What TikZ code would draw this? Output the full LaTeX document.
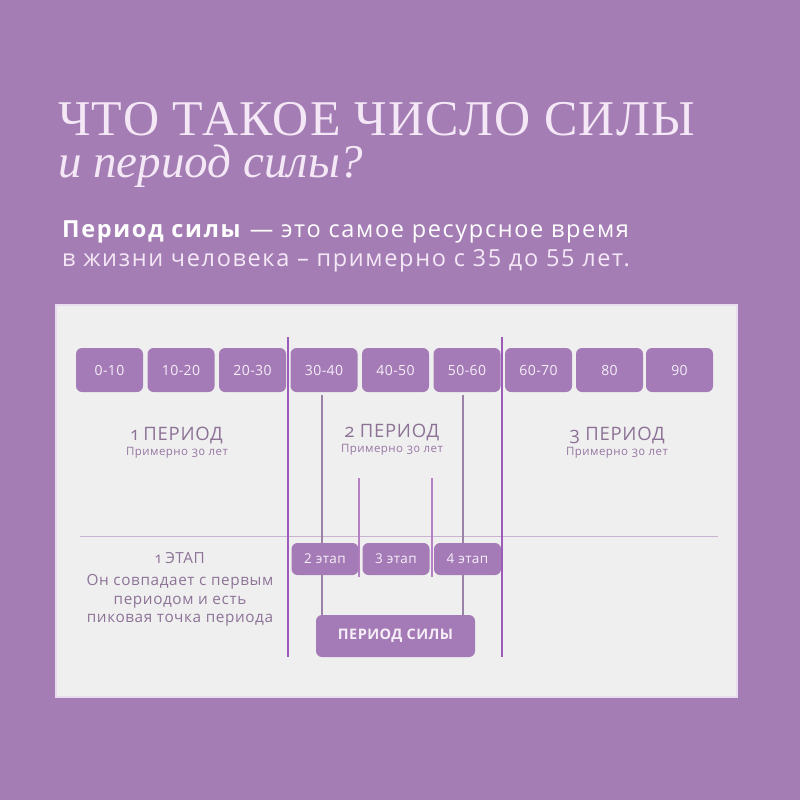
\documentclass[tikz,border=0pt]{standalone}
\usepackage{fontspec}
\setmainfont{Liberation Serif}
\newfontfamily\titlefont[LetterSpace=2.5]{Liberation Serif}
\newfontfamily\labfont{Open Sans}
\newfontfamily\bodyfont[LetterSpace=7]{Open Sans}
\newfontfamily\labfontold[Numbers=OldStyle,LetterSpace=4]{Open Sans}
\newfontfamily\boxfont[LetterSpace=3]{Open Sans}
\definecolor{bgc}{HTML}{A57DB5}
\definecolor{panelc}{HTML}{F0EFF0}
\definecolor{paneledge}{HTML}{EADCF0}
\definecolor{boxc}{HTML}{A47BB6}
\definecolor{boxtext}{HTML}{F6EEF8}
\definecolor{mainline}{HTML}{9C5BB8}
\definecolor{innerline}{HTML}{9A82A6}
\definecolor{shortline}{HTML}{B580C4}
\definecolor{hline}{HTML}{C9B3D3}
\definecolor{labc}{HTML}{8C7396}
\definecolor{subc}{HTML}{9676A2}
\definecolor{titlec}{HTML}{F4E8F6}
\tikzset{
  agebox/.style={rectangle, rounded corners=6pt, fill=boxc, minimum width=67pt, minimum height=44pt, inner sep=0pt, text=boxtext, font=\boxfont\fontsize{14}{14}\selectfont},
  etapbox/.style={agebox, minimum height=32pt, font=\boxfont\fontsize{13.5}{13.5}\selectfont},
  silabox/.style={agebox, minimum width=159pt, minimum height=42pt, font=\boxfont\bfseries\fontsize{14.5}{14.5}\selectfont},
  perlab/.style={anchor=base, inner sep=0pt, text=labc, font=\labfontold\fontsize{18.5}{18.5}\selectfont},
  perssub/.style={anchor=base, inner sep=0pt, text=subc, font=\labfontold\fontsize{11.5}{11.5}\selectfont},
  etaptext/.style={anchor=base, inner sep=0pt, text=labc, font=\labfontold\fontsize{15.3}{15.3}\selectfont},
  mainrule/.style={draw=mainline, line width=2.6pt},
  innerrule/.style={draw=innerline, line width=2pt},
  shortrule/.style={draw=shortline, line width=1.8pt},
}
\begin{document}
\begin{tikzpicture}[x=1pt,y=-1pt]
\useasboundingbox (0,0) rectangle (800,800);
\fill[bgc] (0,0) rectangle (800,800);
% panel
\fill[panelc, draw=paneledge, line width=1.5pt] (56,305) rectangle (737,697);

% title
\node[anchor=base west, inner sep=0pt, text=titlec, font=\titlefont\fontsize{50}{50}\selectfont] (t1) at (58,135) {ЧТО ТАКОЕ ЧИСЛО СИЛЫ};
\node[anchor=base west, inner sep=0pt, text=titlec, font=\itshape\fontsize{47}{47}\selectfont] (t2) at (58,177) {и период силы?};
\node[anchor=base west, inner sep=0pt, text=white, font=\bodyfont\fontsize{23.5}{23.5}\selectfont] (b1) at (62,237) {\textbf{Период силы} — это самое ресурсное время};
\node[anchor=base west, inner sep=0pt, text=titlec, font=\bodyfont\fontsize{23.5}{23.5}\selectfont] (b2) at (62,266) {в жизни человека – примерно с 35 до 55 лет.};

% horizontal rule
\coordinate (hl) at (80,536);
\coordinate (hr) at (718,536);
\draw[hline, line width=1pt] (hl) -- (hr);

% short rules
\coordinate (s1t) at (359,478); \coordinate (s1b) at (359,577);
\coordinate (s2t) at (432,478); \coordinate (s2b) at (432,577);
\draw[shortrule] (s1t) -- (s1b);
\draw[shortrule] (s2t) -- (s2b);

% age boxes
\node[agebox] (a1) at (109.5,370) {0-10};
\node[agebox] (a2) at (181,370) {10-20};
\node[agebox] (a3) at (252.5,370) {20-30};
\node[agebox] (a4) at (324,370) {30-40};
\node[agebox] (a5) at (395.5,370) {40-50};
\node[agebox] (a6) at (467,370) {50-60};
\node[agebox] (a7) at (538.5,370) {60-70};
\node[agebox] (a8) at (609.5,370) {80};
\node[agebox] (a9) at (679.5,370) {90};

% power period box
\node[silabox] (ps) at (395.5,636) {ПЕРИОД СИЛЫ};

% inner rules
\coordinate (i1t) at (322,395); \coordinate (i2t) at (463,395);
\draw[innerrule] (i1t) -- (i1t |- ps.north);
\draw[innerrule] (i2t) -- (i2t |- ps.north);

% etap boxes
\node[etapbox] (e2) at (325,559) {2 этап};
\node[etapbox] (e3) at (396,559) {3 этап};
\node[etapbox] (e4) at (467.5,559) {4 этап};

% main rules
\coordinate (m1t) at (288,337); \coordinate (m1b) at (288,657);
\coordinate (m2t) at (502,337); \coordinate (m2b) at (502,657);
\draw[mainrule] (m1t) -- (m1b);
\draw[mainrule] (m2t) -- (m2b);

% period labels
\node[perlab] (p1) at (177,440) {1 ПЕРИОД};
\node[perssub] (p1s) at (177,455) {Примерно 30 лет};
\node[perlab] (p2) at (392,437) {2 ПЕРИОД};
\node[perssub] (p2s) at (392,452) {Примерно 30 лет};
\node[perlab] (p3) at (617,440) {3 ПЕРИОД};
\node[perssub] (p3s) at (617,455) {Примерно 30 лет};

% stage 1
\node[etaptext] (st0) at (180,563) {1 ЭТАП};
\node[etaptext] (st1) at (180,585) {Он совпадает с первым};
\node[etaptext] (st2) at (180,604) {периодом и есть};
\node[etaptext] (st3) at (180,622) {пиковая точка периода};
\end{tikzpicture}
\end{document}
